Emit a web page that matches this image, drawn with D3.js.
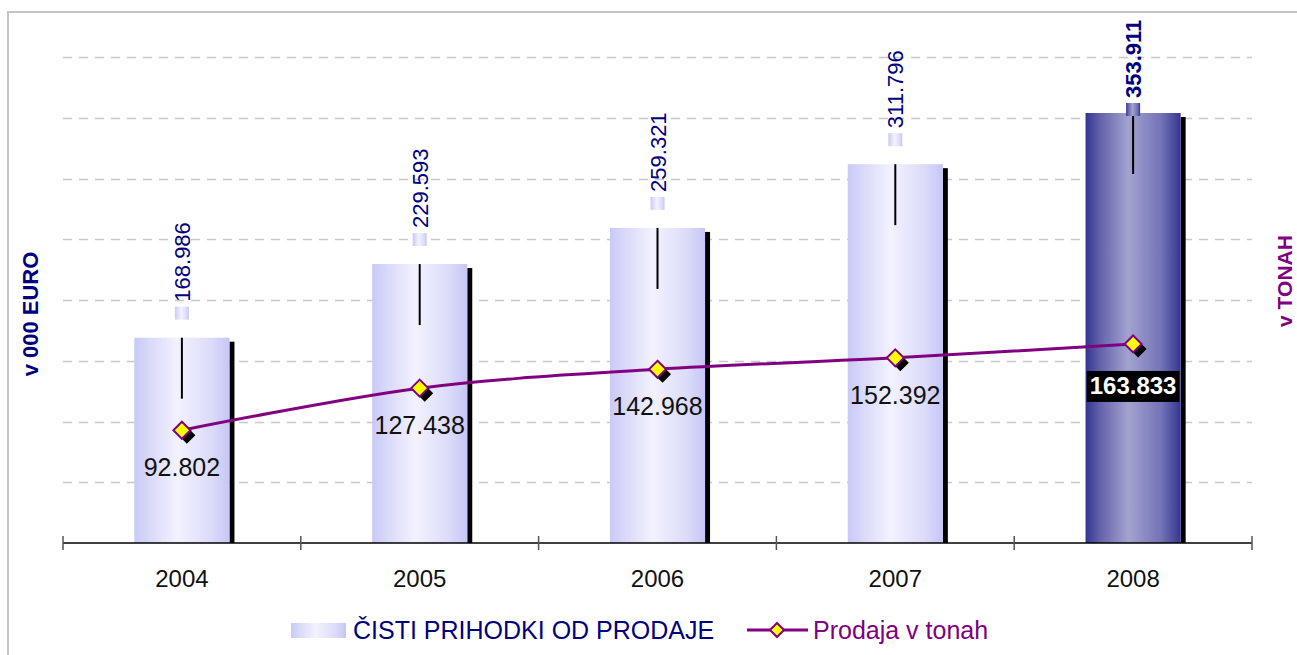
<!DOCTYPE html>
<html>
<head>
<meta charset="utf-8">
<script src="https://cdn.jsdelivr.net/npm/d3@7"></script>
<style>
  body { margin: 0; background: #fff; }
  svg { display: block; font-family: "Liberation Sans", Arial, sans-serif; }
</style>
</head>
<body>
<svg id="chart" width="1297" height="655"></svg>
<script>
// data
const years = ["2004", "2005", "2006", "2007", "2008"];
const revenue = [168.986, 229.593, 259.321, 311.796, 353.911];   // v 000 EURO
const tons = [92.802, 127.438, 142.968, 152.392, 163.833];        // v tonah
const revenueLabels = ["168.986", "229.593", "259.321", "311.796", "353.911"];
const tonLabels = ["92.802", "127.438", "142.968", "152.392", "163.833"];
const seriesNames = ["ČISTI PRIHODKI OD PRODAJE", "Prodaja v tonah"];
const HIGHLIGHT = 4; // last year drawn dark

const svg = d3.select("#chart");
const NAVY = "#000080", PURPLE = "#800080";

// layout
const plot = { left: 63, right: 1252, top: 57, bottom: 543 };

const x = d3.scaleBand().domain(years)
  .range([plot.left, plot.right]).paddingInner(0.6).paddingOuter(0.3);
const yL = d3.scaleLinear().domain([0, 400]).range([plot.bottom, plot.top]);
const yR = d3.scaleLinear().domain([0, 400]).range([plot.bottom, plot.top]);
const cx = d => x(d) + x.bandwidth() / 2;

// gradients
const defs = svg.append("defs");
function grad(id, stops) {
  const g = defs.append("linearGradient").attr("id", id)
    .attr("x1", "0%").attr("x2", "100%").attr("y1", "0%").attr("y2", "0%");
  stops.forEach(s => g.append("stop").attr("offset", s[0]).attr("stop-color", s[1]));
}
grad("light", [["0%", "#c9c9f7"], ["15%", "#d8d8f9"], ["45%", "#f2f2ff"], ["80%", "#dcdcfa"], ["100%", "#c6c6f6"]]);
grad("dark", [["0%", "#343492"], ["15%", "#6262aa"], ["45%", "#a3a3d0"], ["80%", "#7272b6"], ["100%", "#363694"]]);

// frame
svg.append("path")
  .attr("d", "M8,655 V12 H1297")
  .attr("fill", "none").attr("stroke", "#c4c4c4").attr("stroke-width", 2);

// gridlines
svg.append("g").selectAll("line")
  .data(yL.ticks(8).filter(t => t > 0))
  .join("line")
  .attr("x1", plot.left).attr("x2", plot.right)
  .attr("y1", d => Math.round(yL(d)) + 0.5).attr("y2", d => Math.round(yL(d)) + 0.5)
  .attr("stroke", "#c8c8c8").attr("stroke-width", 1.3)
  .attr("stroke-dasharray", "9,7");

// bars
const bars = svg.append("g");
const bw = x.bandwidth();
years.forEach((yr, i) => {
  const top = yL(revenue[i]);
  // shadow
  bars.append("rect")
    .attr("x", x(yr) + bw).attr("y", top + 4)
    .attr("width", 5).attr("height", plot.bottom - top - 4)
    .attr("fill", "#000");
  bars.append("rect")
    .attr("x", x(yr)).attr("y", top)
    .attr("width", bw).attr("height", plot.bottom - top)
    .attr("fill", i === HIGHLIGHT ? "url(#dark)" : "url(#light)");
  // error-bar like stub
  bars.append("line")
    .attr("x1", cx(yr)).attr("x2", cx(yr))
    .attr("y1", top).attr("y2", top + 61)
    .attr("stroke", "#000").attr("stroke-width", 2);
  const capBottom = i === HIGHLIGHT ? top + 3 : top - 18;
  bars.append("rect")
    .attr("x", cx(yr) - 7).attr("y", capBottom - 13)
    .attr("width", 14).attr("height", 13)
    .attr("fill", i === HIGHLIGHT ? "url(#dark)" : "url(#light)");
  // rotated value label
  const lx = cx(yr) + 8, ly = capBottom - 18;
  bars.append("text")
    .attr("transform", `translate(${lx},${ly}) rotate(-90)`)
    .attr("font-size", 22)
    .attr("font-weight", i === HIGHLIGHT ? "bold" : "normal")
    .attr("fill", NAVY)
    .text(revenueLabels[i]);
});

// x axis
const axis = svg.append("g");
axis.append("line")
  .attr("x1", plot.left).attr("x2", plot.right)
  .attr("y1", plot.bottom).attr("y2", plot.bottom)
  .attr("stroke", "#000").attr("stroke-width", 1.5);
const step = x.step();
const bounds = years.map(d => x(d) - x.paddingOuter() * step).concat([plot.right]);
axis.selectAll(".tick").data(bounds).join("line")
  .attr("x1", d => d).attr("x2", d => d)
  .attr("y1", plot.bottom - 7).attr("y2", plot.bottom + 7)
  .attr("stroke", "#555").attr("stroke-width", 1.5);
axis.selectAll(".yl").data(years).join("text")
  .attr("x", d => cx(d)).attr("y", 587)
  .attr("text-anchor", "middle").attr("font-size", 24).attr("fill", "#111")
  .text(d => d);

// line series
const pts = years.map((yr, i) => ({ x: cx(yr), y: yR(tons[i]), i }));
svg.append("path")
  .datum(pts)
  .attr("d", d3.line().x(d => d.x).y(d => d.y).curve(d3.curveCatmullRom.alpha(0.5)))
  .attr("fill", "none").attr("stroke", PURPLE).attr("stroke-width", 3);

const diamond = (x0, y0, r) => `M${x0},${y0 - r} L${x0 + r},${y0} L${x0},${y0 + r} L${x0 - r},${y0} Z`;
const mk = svg.append("g");
pts.forEach(p => {
  mk.append("path").attr("d", diamond(p.x + 5, p.y + 5, 8.5)).attr("fill", "#000");
  mk.append("path").attr("d", diamond(p.x, p.y, 8.5))
    .attr("fill", "#ffff00").attr("stroke", PURPLE).attr("stroke-width", 2);
});

// line value labels
pts.forEach(p => {
  if (p.i === HIGHLIGHT) {
    const t = mk.append("text")
      .attr("x", p.x).attr("y", p.y + 50)
      .attr("text-anchor", "middle").attr("font-size", 24).attr("font-weight", "bold")
      .attr("fill", "#fff").text(tonLabels[p.i]);
    const b = t.node().getBBox();
    mk.insert("rect", "text")
      .attr("x", b.x - 3).attr("y", p.y + 27)
      .attr("width", b.width + 6).attr("height", 31)
      .attr("fill", "#000");
    t.raise();
  } else {
    mk.append("text")
      .attr("x", p.x).attr("y", p.y + 46)
      .attr("text-anchor", "middle").attr("font-size", 25)
      .attr("fill", "#111").text(tonLabels[p.i]);
  }
});

// axis titles
svg.append("text")
  .attr("transform", "translate(38,314) rotate(-90)")
  .attr("text-anchor", "middle").attr("font-size", 22).attr("font-weight", "bold")
  .attr("fill", NAVY).text("v 000 EURO");
svg.append("text")
  .attr("transform", "translate(1292,281) rotate(-90)")
  .attr("text-anchor", "middle").attr("font-size", 21).attr("font-weight", "bold")
  .attr("fill", PURPLE).text("v TONAH");

// legend
const lg = svg.append("g");
lg.append("rect").attr("x", 291).attr("y", 623).attr("width", 55).attr("height", 15)
  .attr("fill", "url(#light)");
lg.append("text").attr("x", 353).attr("y", 639).attr("font-size", 25)
  .attr("fill", NAVY).text(seriesNames[0]);
lg.append("line").attr("x1", 747).attr("x2", 808).attr("y1", 630).attr("y2", 630)
  .attr("stroke", PURPLE).attr("stroke-width", 3);
lg.append("path").attr("d", diamond(777, 630, 7))
  .attr("fill", "#ffff00").attr("stroke", PURPLE).attr("stroke-width", 2);
lg.append("text").attr("x", 813).attr("y", 639).attr("font-size", 25)
  .attr("fill", PURPLE).text(seriesNames[1]);
</script>
</body>
</html>
